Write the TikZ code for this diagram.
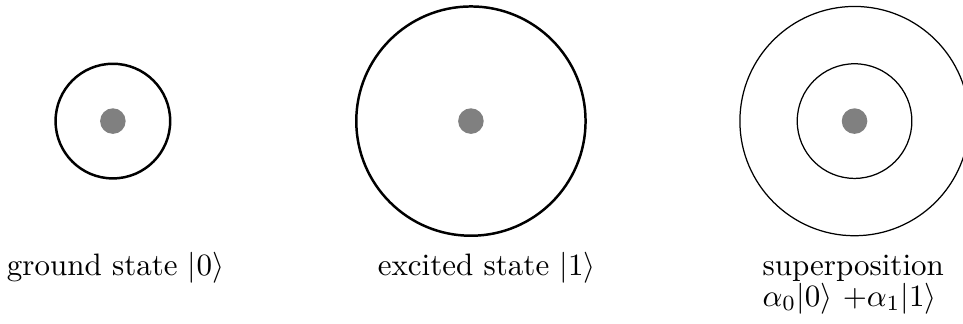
\documentclass[tikz,border=0pt]{standalone}
\usepackage{amsmath,amssymb}
\usetikzlibrary{positioning}

\begin{document}
\begin{tikzpicture}[
  ring/.style={draw, circle, inner sep=0pt},
  bold/.style={ring, thick},
  dot/.style={circle, fill=gray, inner sep=0pt, minimum size=0.29cm},
  lbl/.style={anchor=base, inner sep=0pt}]
\useasboundingbox (0,0) rectangle (10.92,3.673);
\node[bold, minimum size=1.3cm] (gs) at (1.28,2.3) {};
\node[bold, minimum size=2.6cm] (es) at (5.34,2.3) {};
\node[ring, minimum size=2.6cm] (so) at (9.69,2.3) {};
\node[ring, minimum size=1.3cm] (si) at (so) {};
\node[dot] (d0) at (gs) {}; \node[dot] (d1) at (es) {}; \node[dot] (d2) at (so) {};
\node[lbl] (lg) at (1.31,0.544) {ground state $|0\rangle$};
\node[lbl] (le) at (5.52,0.544) {excited state $|1\rangle$};
\node[lbl, anchor=base west] (ls) at (8.64,0.544) {superposition};
\node[lbl, anchor=base west] (lc) at (8.64,0.2)
  {$\alpha_0|0\rangle$ $+\alpha_1|1\rangle$};
\end{tikzpicture}
\end{document}
